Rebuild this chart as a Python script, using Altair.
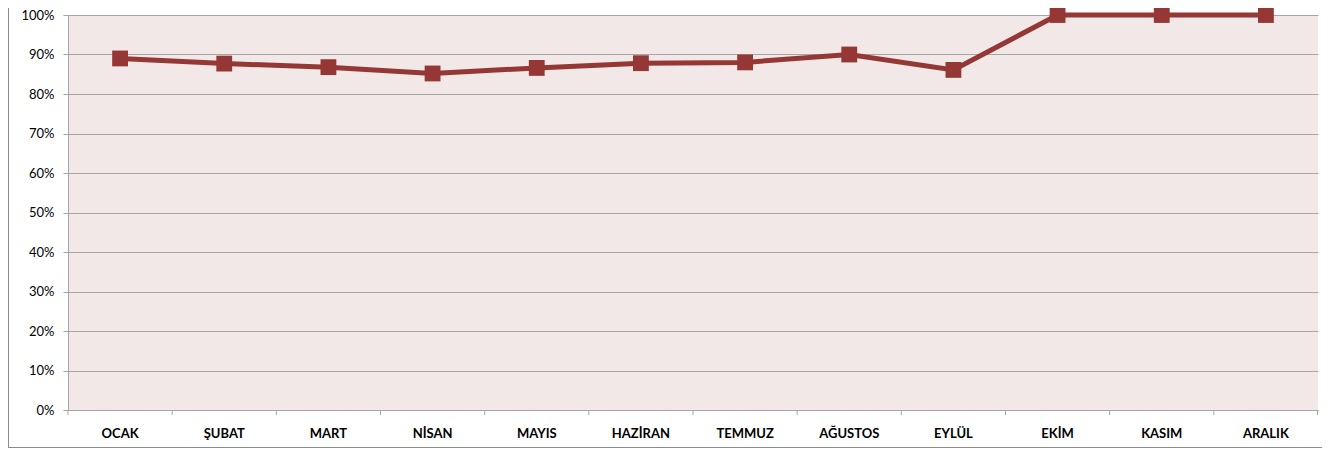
import altair as alt
import pandas as pd

months = ["OCAK", "ŞUBAT", "MART", "NİSAN", "MAYIS", "HAZİRAN",
          "TEMMUZ", "AĞUSTOS", "EYLÜL", "EKİM", "KASIM", "ARALIK"]
values = [0.890, 0.877, 0.868, 0.852, 0.866, 0.878,
          0.880, 0.900, 0.861, 1.00, 1.00, 1.00]
y_ticks = [0, 0.1, 0.2, 0.3, 0.4, 0.5, 0.6, 0.7, 0.8, 0.9, 1.0]

df = pd.DataFrame({"month": months, "value": values})

W, H = 1250, 395
FONT = "Lato"
GRID = "#A6A6A6"
LINE = "#953735"

x_scale = alt.Scale(domain=months, paddingInner=0, paddingOuter=0)
y_scale = alt.Scale(domain=[0, 1], nice=False)

x_axis = alt.Axis(title=None, labelAngle=0, ticks=False,
                  labelFont=FONT, labelFontSize=13, labelFontWeight="bold",
                  labelColor="#000000", labelPadding=17,
                  domainColor=GRID, domainWidth=1, grid=False)
y_axis = alt.Axis(title=None, values=y_ticks, format=".0%", tickCount=11,
                  labelFont=FONT, labelFontSize=13, labelColor="#000000",
                  labelOverlap=False,
                  tickSize=5, tickColor=GRID, labelPadding=9,
                  domainColor=GRID, gridColor=GRID, gridWidth=1)

base = alt.Chart(df)

line = base.mark_line(color=LINE, strokeWidth=5).encode(
    x=alt.X("month:N", scale=x_scale, sort=months, axis=x_axis),
    y=alt.Y("value:Q", scale=y_scale, axis=y_axis),
)

points = base.mark_point(shape="square", filled=True, color=LINE, size=250, opacity=1).encode(
    x=alt.X("month:N", scale=x_scale, sort=months, axis=x_axis),
    y=alt.Y("value:Q", scale=y_scale, axis=y_axis),
)

ticks = base.mark_rule(color=GRID, strokeWidth=1).encode(
    x=alt.X("month:N", scale=x_scale, sort=months, bandPosition=0, axis=x_axis),
    y=alt.value(H),
    y2=alt.value(H + 5),
)
last_tick = alt.Chart(pd.DataFrame({"k": [1]})).mark_rule(color=GRID, strokeWidth=1).encode(
    x=alt.value(W - 0.5), y=alt.value(H), y2=alt.value(H + 5)
)

border_left = alt.Chart(pd.DataFrame({"k": [1]})).mark_rule(color="#8C8C8C", strokeWidth=1).encode(
    x=alt.value(-59.5), y=alt.value(-7), y2=alt.value(H + 38)
)
border_bottom = alt.Chart(pd.DataFrame({"k": [1]})).mark_rule(color="#8C8C8C", strokeWidth=1).encode(
    x=alt.value(-59.5), x2=alt.value(W + 4), y=alt.value(H + 37.5)
)

chart = alt.layer(line, ticks, last_tick, points, border_left, border_bottom).properties(
    width=W, height=H,
    autosize=alt.AutoSizeParams(type="none"),
    padding={"left": 60, "top": 7, "right": 4, "bottom": 39},
    background="#FFFFFF",
).configure_view(
    fill="#F2E8E7", stroke=None
)

chart.save("out.html", embed_options={"renderer": "svg", "actions": False})
